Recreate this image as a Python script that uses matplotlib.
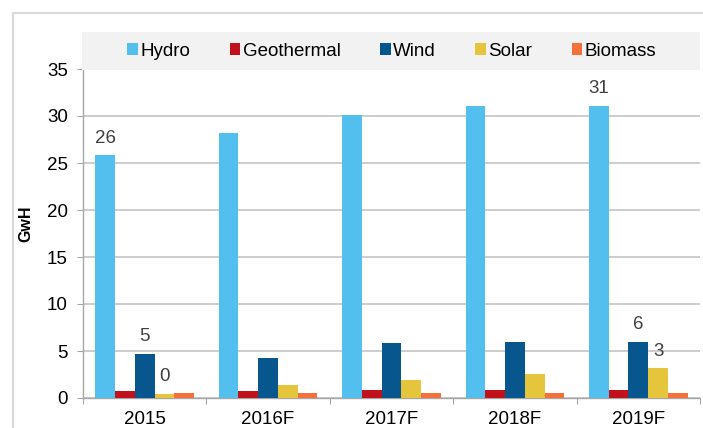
import matplotlib.pyplot as plt
import numpy as np
from matplotlib.patches import Rectangle
from matplotlib.lines import Line2D

plt.rcParams['font.family'] = ['Liberation Sans', 'DejaVu Sans']

years = ["2015", "2016F", "2017F", "2018F", "2019F"]
series = ["Hydro", "Geothermal", "Wind", "Solar", "Biomass"]
hydro = [25.8, 28.2, 30.1, 31.1, 31.1]
geothermal = [0.75, 0.75, 0.8, 0.8, 0.8]
wind = [4.7, 4.25, 5.85, 6.0, 6.0]
solar = [0.43, 1.38, 1.9, 2.6, 3.15]
biomass = [0.53, 0.5, 0.5, 0.5, 0.5]
colors = ["#53BFEF", "#C1121C", "#07568E", "#E4C53C", "#F5703A"]

# data labels shown only on first and last category
labelled = [0, 4]
labelled_series = ["Hydro", "Wind", "Solar"]

values = {"Hydro": hydro, "Geothermal": geothermal, "Wind": wind,
          "Solar": solar, "Biomass": biomass}

fs = 13.5

fig = plt.figure(figsize=(7.03, 4.28), dpi=100)
ax = fig.add_axes([83 / 703, 1 - 398 / 428, 617 / 703, 329 / 428])

x = np.arange(len(years))
w = 0.16
handles = []
for i, name in enumerate(series):
    off = (i - 2) * w
    b = ax.bar(x + off, values[name], w, color=colors[i], zorder=3, label=name)
    handles.append(b)
    if name in labelled_series:
        for j in labelled:
            v = values[name][j]
            ax.text(x[j] + off, v + 0.9, "%d" % round(v), ha='center', va='bottom',
                    fontsize=fs, color='#404040', zorder=4)

ax.set_xlim(-0.5, len(years) - 0.5)
ax.set_ylim(0, 35)
ax.set_yticks(np.arange(0, 36, 5))
ax.yaxis.grid(True, color='#BFBFBF', linewidth=1.1, zorder=0)
ax.set_axisbelow(True)

ax.set_xticks(np.arange(-0.5, len(years), 1.0))
ax.set_xticklabels([])
ax.set_xticks(x, minor=True)
ax.set_xticklabels(years, minor=True)
ax.tick_params(axis='x', which='minor', length=0, pad=9, labelsize=fs)
ax.tick_params(axis='x', which='major', length=4, color='#A6A6A6', direction='out')
ax.tick_params(axis='y', length=4, color='#A6A6A6', direction='out', pad=7, labelsize=fs)

for s in ['top', 'right']:
    ax.spines[s].set_visible(False)
ax.spines['left'].set_color('#A6A6A6')
ax.spines['bottom'].set_color('#A6A6A6')
ax.spines['left'].set_linewidth(1.0)
ax.spines['bottom'].set_linewidth(1.0)

fig.text(26 / 703, 1 - 224 / 428, "GwH", rotation=90, ha='center', va='center',
         fontsize=11.5, fontweight='bold')

# legend background band
box = Rectangle((82 / 703, 1 - 70 / 428), 618 / 703, 38 / 428, transform=fig.transFigure,
                facecolor='#F2F2F2', edgecolor='none', zorder=5)
fig.patches.append(box)

leg = fig.legend(handles=handles, labels=series, loc='center',
                 bbox_to_anchor=(392 / 703, 1 - 51 / 428), ncol=5, frameon=False,
                 fontsize=fs, handlelength=0.55, handleheight=0.55, handletextpad=0.15,
                 columnspacing=2.1)
leg.set_zorder(6)

# outer frame lines
fig.add_artist(Line2D([13 / 703, 13 / 703], [0, 1 - 13 / 428], transform=fig.transFigure,
                      color='#D9D9D9', linewidth=1.5))
fig.add_artist(Line2D([13 / 703, 1], [1 - 13 / 428, 1 - 13 / 428], transform=fig.transFigure,
                      color='#D9D9D9', linewidth=1.5))

fig.savefig("out.png", dpi=100)
